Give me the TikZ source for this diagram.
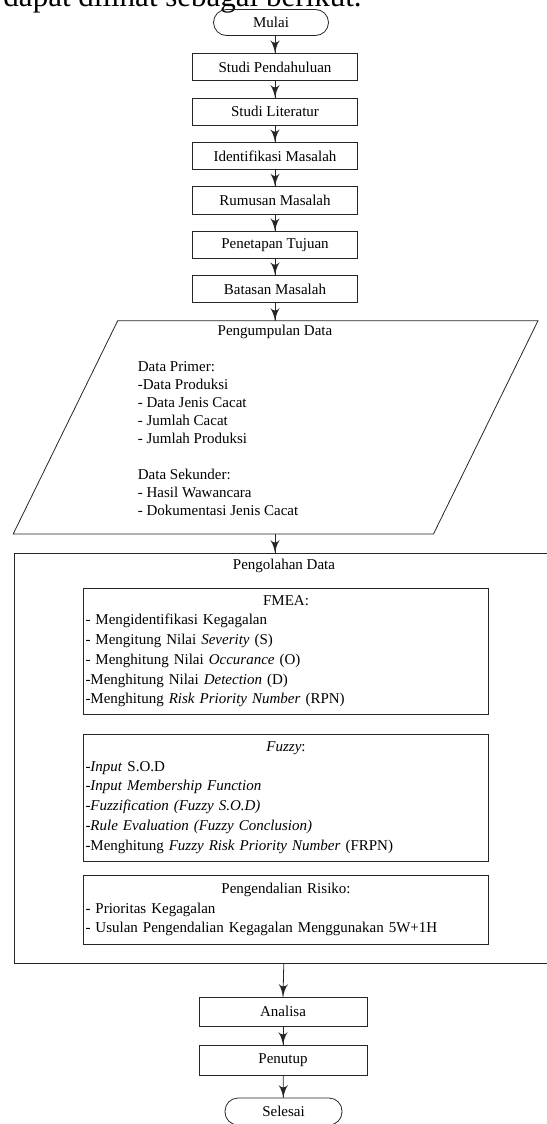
\documentclass[tikz,border=0pt]{standalone}
\usepackage{fontspec}
\setmainfont{Liberation Serif}
\usetikzlibrary{arrows}
\usetikzlibrary{decorations.markings}
\usetikzlibrary{positioning}
\tikzset{->/.style = {decoration={markings,
                                  mark=at position 1 with {\arrow[scale=2.4]{latex'}}},
                      postaction={decorate}}}
\tikzset{proses/.style = {draw, rectangle, minimum width=165pt, minimum height=27.5pt, inner sep=0}}
\tikzset{terminal/.style = {draw, rectangle, rounded corners=13pt, minimum width=115pt, minimum height=26pt, inner sep=0}}
\tikzset{daftar/.style = {draw, rectangle, text width=401pt, inner xsep=2pt, align=left}}
\newcommand\judul[1]{{\centering #1\par}}

\begin{document}
\begin{tikzpicture}[x=1pt, y=-1pt, line width=0.8pt, draw=black!85,
                    font=\fontsize{15}{19.7}\selectfont]
          \useasboundingbox (0, 0) rectangle (546, 1124);
          \node [anchor=base east, inner sep=0, font=\fontsize{31}{36}\selectfont] (pengantar) at (362, 6.5) {dapat dilihat sebagai berikut.};
          % tahap awal
          \node [terminal] (mulai) at (271, 22.5) {Mulai};
          \node [proses] (studi) at (275, 67) {Studi Pendahuluan};
          \node [proses] (literatur) at (275, 111.7) {Studi Literatur};
          \node [proses] (identifikasi) at (275, 156) {Identifikasi Masalah};
          \node [proses] (rumusan) at (275, 200.3) {Rumusan Masalah};
          \node [proses] (tujuan) at (275, 245) {Penetapan Tujuan};
          \node [proses] (batasan) at (275, 289) {Batasan Masalah};
          % pengumpulan data
          \coordinate (kumpulAtas) at (275, 320.7);
          \coordinate (kumpulBawah) at (275, 534);
          \draw (13.2, 534) -- (117.7, 320.7) -- (538, 320.7) -- (433.5, 534) -- cycle;
          \node [inner sep=0] (kumpulJudul) at (275, 331.5) {Pengumpulan Data};
          \node [anchor=north west, inner sep=0, align=left, font=\fontsize{15}{18}\selectfont] (kumpulIsi) at (137.5, 361)
            {Data Primer:\\ -Data Produksi\\ - Data Jenis Cacat\\ - Jumlah Cacat\\ - Jumlah Produksi\\[18pt]
             Data Sekunder:\\ - Hasil Wawancara\\ - Dokumentasi Jenis Cacat};
          % pengolahan data
          \node [draw, rectangle, minimum width=538.4pt, minimum height=410pt, inner sep=0] (olah) at (283.8, 758) {};
          \node [inner sep=0] (olahJudul) at (284, 566) {Pengolahan Data};
          \node [daftar, minimum height=126.3pt] (fmea) at (286, 651.2)
            {\judul{FMEA:}
             - Mengidentifikasi Kegagalan\\
             - Mengitung Nilai \textit{Severity} (S)\\
             - Menghitung Nilai \textit{Occurance} (O)\\
             -Menghitung Nilai \textit{Detection} (D)\\
             -Menghitung \textit{Risk Priority Number} (RPN)};
          \node [daftar, minimum height=127pt] (fuzzy) at (286, 797.5)
            {\judul{\textit{Fuzzy}:}
             -\textit{Input} S.O.D\\
             -\textit{Input Membership Function}\\
             -\textit{Fuzzification (Fuzzy S.O.D)}\\
             -\textit{Rule Evaluation (Fuzzy Conclusion)}\\
             -Menghitung \textit{Fuzzy Risk Priority Number} (FRPN)};
          \node [daftar, minimum height=69.3pt] (risiko) at (286, 909.7)
            {\judul{Pengendalian Risiko:}
             - Prioritas Kegagalan\\
             - Usulan Pengendalian Kegagalan Menggunakan 5W+1H};
          % tahap akhir
          \node [proses, minimum width=168pt, minimum height=29pt] (analisa) at (283, 1011.5) {Analisa};
          \node [proses, minimum width=168pt, minimum height=30pt] (penutup) at (283, 1060) {Penutup};
          \node [terminal, minimum width=117pt, minimum height=27pt] (selesai) at (283.5, 1111.5) {Selesai};
          % panah
          \draw [->] (studi.north |- mulai.south) -- (studi.north);
          \draw [->] (studi) -- (literatur);
          \draw [->] (literatur) -- (identifikasi);
          \draw [->] (identifikasi) -- (rumusan);
          \draw [->] (rumusan) -- (tujuan);
          \draw [->] (tujuan) -- (batasan);
          \draw [->] (batasan.south) -- (kumpulAtas);
          \draw [->] (kumpulBawah) -- (kumpulBawah |- olah.north);
          \draw [->] (olah.south) -- (analisa.north);
          \draw [->] (analisa) -- (penutup);
          \draw [->] (penutup) -- (selesai);
        \end{tikzpicture}
\end{document}
